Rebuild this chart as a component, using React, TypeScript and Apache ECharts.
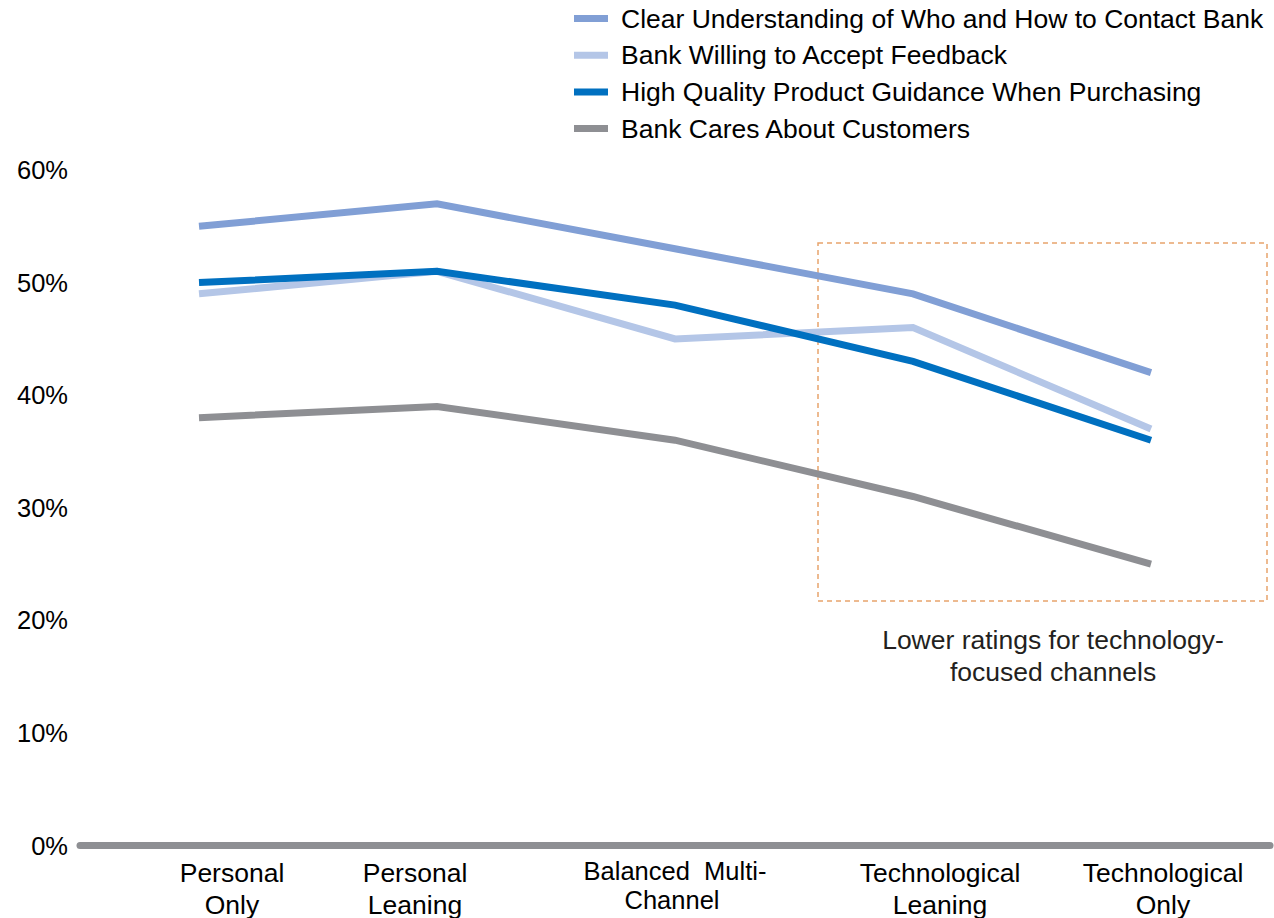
import React, { useEffect, useRef } from "react";
import * as echarts from "echarts";

const categories = [
  "Personal\nOnly",
  "Personal\nLeaning",
  "Balanced  Multi-\nChannel",
  "Technological\nLeaning",
  "Technological\nOnly",
];

const seriesNames = [
  "Clear Understanding of Who and How to Contact Bank",
  "Bank Willing to Accept Feedback",
  "High Quality Product Guidance When Purchasing",
  "Bank Cares About Customers",
];

const clearUnderstanding = [55, 57, 53, 49, 42];
const willingFeedback = [49, 51, 45, 46, 37];
const qualityGuidance = [50, 51, 48, 43, 36];
const caresCustomers = [38, 39, 36, 31, 25];

const yTicks = [0, 10, 20, 30, 40, 50, 60];

const annotationText = "Lower ratings for technology-\nfocused channels";

const FONT = "'Liberation Sans', Arial, sans-serif";
const colors = ["#819FD5", "#B4C6E7", "#0070C0", "#8E8F93"];
// horizontal shift of each category label relative to its point (px)
const labelShift = [33, -22, -3, 27, 12];

export default function App() {
  const ref = useRef<HTMLDivElement>(null);

  useEffect(() => {
    document.body.style.margin = "0";
    if (!ref.current) return;
    const chart = echarts.init(ref.current, undefined, { renderer: "svg" });

    const rich: Record<string, any> = {};
    labelShift.forEach((s, i) => {
      const pad = s >= 0 ? [0, 0, 0, 2 * s] : [0, -2 * s, 0, 0];
      rich["s" + i] = {
        fontSize: i === 2 ? 25.5 : 26.5,
        fontFamily: FONT,
        color: "#000",
        lineHeight: 32,
        padding: pad,
      };
    });
    rich["bt"] = {
      fontSize: 25.5,
      fontFamily: FONT,
      color: "#000",
      lineHeight: 27,
      verticalAlign: "bottom",
    };

    const dataSets = [clearUnderstanding, willingFeedback, qualityGuidance, caresCustomers];

    chart.setOption({
      animation: false,
      backgroundColor: "#fff",
      textStyle: { fontFamily: FONT },
      grid: { left: 80, right: 4, top: 170, bottom: 72, containLabel: false },
      legend: {
        orient: "vertical",
        left: 569,
        top: 0,
        icon: "rect",
        itemWidth: 34,
        itemHeight: 7,
        itemGap: 9.7,
        data: seriesNames,
        textStyle: {
          fontSize: 26.5,
          fontFamily: FONT,
          color: "#000",
          lineHeight: 27,
          padding: [0, 0, 0, 8],
        },
      },
      xAxis: {
        type: "category",
        data: categories,
        boundaryGap: true,
        axisLine: { show: true, lineStyle: { color: "#8E8F93", width: 7 } },
        axisTick: { show: false },
        splitLine: { show: false },
        axisLabel: {
          interval: 0,
          margin: 11,
          formatter: (value: string, index: number) => {
            const lines = value.split("\n");
            if (index === 2) {
              return `{bt|${lines[0]}}\n{s2|${lines[1]}}`;
            }
            return lines.map((l) => `{s${index}|${l}}`).join("\n");
          },
          rich,
        },
      },
      yAxis: {
        type: "value",
        min: yTicks[0],
        max: yTicks[yTicks.length - 1],
        interval: 10,
        axisLine: { show: false },
        axisTick: { show: false },
        splitLine: { show: false },
        axisLabel: {
          formatter: "{value}%",
          fontSize: 25.5,
          fontFamily: FONT,
          color: "#000",
          margin: 12,
        },
      },
      series: dataSets.map((d, i) => ({
        name: seriesNames[i],
        type: "line",
        data: d,
        symbol: "none",
        color: colors[i],
        lineStyle: { color: colors[i], width: 7, cap: "butt", join: "miter" },
        itemStyle: { color: colors[i] },
        z: 2 + i,
      })),
      graphic: [
        {
          type: "rect",
          shape: { x: 818, y: 243, width: 449, height: 358 },
          style: { fill: "none", stroke: "#E8A46C", lineWidth: 1.5, lineDash: [5, 4] },
          z: 1,
        },
        {
          type: "text",
          x: 1053,
          y: 624,
          style: {
            text: annotationText,
            font: `26.5px ${FONT}`,
            fill: "#231F20",
            textAlign: "center",
            textVerticalAlign: "top",
            lineHeight: 32,
          },
        },
      ],
    });

    return () => chart.dispose();
  }, []);

  return (
    <div
      ref={ref}
      style={{ position: "fixed", left: 0, top: 0, width: 1274, height: 918 }}
    />
  );
}
